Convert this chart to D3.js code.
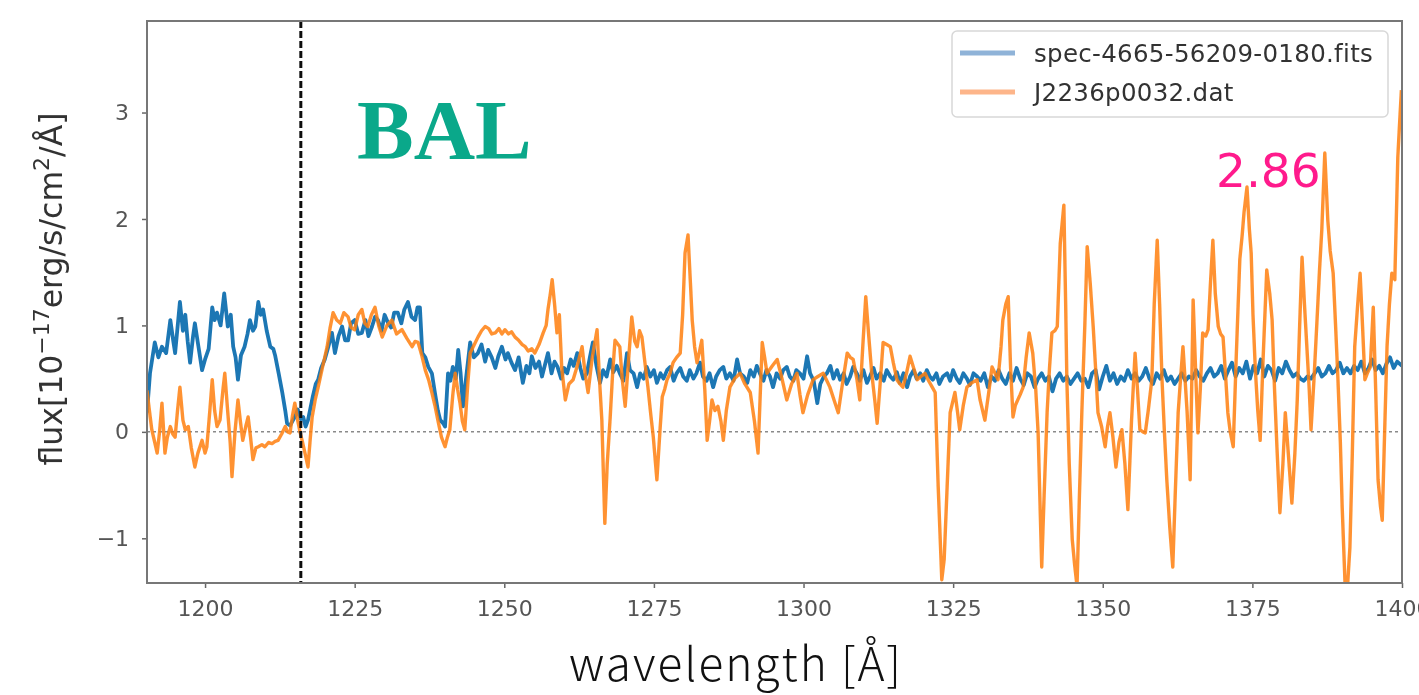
<!DOCTYPE html>
<html>
<head>
<meta charset="utf-8">
<script src="https://cdn.jsdelivr.net/npm/d3@7"></script>
<style>
  html, body { margin: 0; padding: 0; background: #fff; }
  svg { display: block; }
</style>
</head>
<body>
<svg id="chart" width="1419" height="695"></svg>
<script>
// SDSS spectrum (blue), [wavelength, flux]
const specSDSS = [
  [1190.3,0.18],[1190.8,0.55],[1191.6,0.84],[1192.2,0.70],[1192.8,0.80],[1193.5,0.74],[1194.2,1.05],[1194.7,0.85],
  [1195.0,0.74],[1195.8,1.22],[1196.3,0.95],[1196.7,1.10],[1197.1,0.85],[1197.5,0.65],[1198.0,0.90],[1198.3,1.02],
  [1198.9,0.80],[1199.5,0.58],[1200.0,0.68],[1200.6,0.78],[1201.2,1.17],[1201.6,1.05],[1202.0,1.12],[1202.6,1.00],
  [1203.2,1.30],[1203.8,0.99],[1204.3,1.10],[1204.7,0.80],[1205.1,0.70],[1205.5,0.49],[1206.0,0.72],[1206.6,0.80],
  [1207.1,0.92],[1207.5,1.05],[1208.0,0.95],[1208.4,0.99],[1208.9,1.22],[1209.3,1.10],[1209.7,1.15],[1210.3,0.95],
  [1210.9,0.80],[1211.4,0.78],[1211.7,0.72],[1212.3,0.55],[1212.9,0.37],[1213.4,0.20],[1213.7,0.08],[1214.2,0.06],
  [1214.7,0.11],[1215.1,0.15],[1215.5,0.21],[1216.0,0.12],[1216.4,0.14],[1216.8,0.05],[1217.2,0.11],[1217.6,0.22],
  [1218.0,0.33],[1218.5,0.45],[1218.9,0.49],[1219.4,0.60],[1220.0,0.68],[1220.6,0.80],[1221.2,0.93],[1221.7,0.74],
  [1222.3,0.90],[1222.9,0.99],[1223.4,0.86],[1223.9,0.86],[1224.4,1.02],[1225.0,1.05],[1225.6,0.92],[1226.2,0.93],
  [1226.8,1.05],[1227.3,0.90],[1227.9,0.99],[1228.4,1.08],[1228.9,1.05],[1229.5,0.95],[1230.0,1.10],[1230.6,1.02],
  [1231.1,0.98],[1231.6,1.12],[1232.2,1.12],[1232.8,1.02],[1233.3,1.15],[1233.9,1.22],[1234.5,1.08],[1235.1,1.05],
  [1235.5,1.17],[1235.9,1.17],[1236.3,0.74],[1236.8,0.70],[1237.3,0.61],[1237.9,0.55],[1238.4,0.37],[1238.9,0.20],
  [1239.3,0.11],[1239.8,0.08],[1240.1,0.05],[1240.6,0.55],[1241.0,0.48],[1241.4,0.61],[1241.9,0.50],[1242.3,0.77],
  [1242.7,0.55],[1243.1,0.24],[1243.6,0.50],[1244.3,0.84],[1244.9,0.70],[1245.6,0.74],[1246.2,0.82],[1246.8,0.66],
  [1247.3,0.77],[1247.9,0.70],[1248.5,0.60],[1249.0,0.71],[1249.6,0.80],[1250.2,0.68],[1250.6,0.74],[1251.2,0.65],
  [1251.8,0.58],[1252.4,0.70],[1253.1,0.46],[1253.7,0.62],[1254.2,0.55],[1254.6,0.71],[1255.2,0.60],[1255.8,0.66],
  [1256.3,0.52],[1256.8,0.63],[1257.3,0.74],[1257.9,0.55],[1258.4,0.66],[1258.9,0.61],[1259.5,0.50],[1260.0,0.60],
  [1260.5,0.55],[1261.1,0.68],[1261.6,0.62],[1262.2,0.74],[1262.7,0.60],[1263.2,0.50],[1263.8,0.55],[1264.3,0.70],
  [1264.8,0.84],[1265.4,0.62],[1266.0,0.46],[1266.5,0.58],[1267.1,0.52],[1267.7,0.68],[1268.2,0.56],[1268.8,0.62],
  [1269.3,0.55],[1269.9,0.48],[1270.5,0.74],[1271.0,0.58],[1271.6,0.55],[1272.2,0.42],[1272.7,0.55],[1273.3,0.50],
  [1273.8,0.61],[1274.4,0.52],[1275.0,0.58],[1275.5,0.46],[1276.1,0.55],[1276.6,0.50],[1277.2,0.58],[1277.7,0.61],
  [1278.3,0.48],[1278.8,0.55],[1279.4,0.60],[1279.9,0.52],[1280.5,0.48],[1281.0,0.58],[1281.6,0.50],[1282.1,0.55],
  [1282.7,0.65],[1283.2,0.52],[1283.8,0.48],[1284.3,0.55],[1284.9,0.42],[1285.4,0.52],[1286.0,0.58],[1286.6,0.61],
  [1287.1,0.50],[1287.7,0.55],[1288.3,0.48],[1288.9,0.68],[1289.4,0.55],[1290.0,0.52],[1290.6,0.46],[1291.1,0.58],
  [1291.7,0.52],[1292.2,0.62],[1292.7,0.55],[1293.3,0.48],[1293.8,0.58],[1294.4,0.52],[1294.9,0.42],[1295.5,0.55],
  [1296.1,0.50],[1296.6,0.58],[1297.2,0.61],[1297.7,0.52],[1298.3,0.48],[1298.8,0.58],[1299.4,0.55],[1300.0,0.50],
  [1300.6,0.71],[1301.1,0.55],[1301.7,0.48],[1302.3,0.27],[1302.8,0.45],[1303.4,0.52],[1303.9,0.55],[1304.5,0.62],
  [1305.0,0.50],[1305.6,0.58],[1306.1,0.49],[1306.7,0.55],[1307.2,0.45],[1307.8,0.52],[1308.3,0.61],[1308.9,0.55],
  [1309.4,0.48],[1310.0,0.58],[1310.6,0.46],[1311.1,0.52],[1311.7,0.60],[1312.2,0.50],[1312.8,0.55],[1313.4,0.48],
  [1313.9,0.58],[1314.5,0.52],[1315.0,0.49],[1315.6,0.56],[1316.1,0.46],[1316.7,0.55],[1317.3,0.42],[1317.8,0.52],
  [1318.4,0.58],[1318.9,0.50],[1319.5,0.55],[1320.0,0.48],[1320.6,0.58],[1321.1,0.52],[1321.6,0.49],[1322.2,0.55],
  [1322.7,0.45],[1323.3,0.52],[1324.0,0.55],[1324.5,0.48],[1325.0,0.58],[1325.6,0.50],[1326.1,0.46],[1326.7,0.55],
  [1327.3,0.50],[1327.8,0.44],[1328.4,0.55],[1329.0,0.52],[1329.6,0.48],[1330.2,0.55],[1330.8,0.42],[1331.4,0.52],
  [1332.0,0.48],[1332.6,0.58],[1333.2,0.50],[1333.8,0.45],[1334.4,0.55],[1335.0,0.48],[1335.6,0.60],[1336.2,0.50],
  [1336.8,0.44],[1337.4,0.55],[1338.0,0.52],[1338.6,0.42],[1339.2,0.50],[1339.8,0.55],[1340.4,0.48],[1341.0,0.52],
  [1341.6,0.38],[1342.2,0.50],[1342.8,0.55],[1343.4,0.48],[1344.0,0.52],[1344.6,0.45],[1345.2,0.50],[1345.8,0.55],
  [1346.4,0.48],[1347.0,0.50],[1347.6,0.42],[1348.2,0.55],[1348.8,0.58],[1349.4,0.40],[1350.0,0.52],[1350.6,0.62],
  [1351.2,0.48],[1351.8,0.55],[1352.4,0.45],[1353.0,0.52],[1353.6,0.48],[1354.2,0.58],[1354.8,0.50],[1355.4,0.55],
  [1356.0,0.48],[1356.6,0.52],[1357.2,0.60],[1357.8,0.50],[1358.4,0.45],[1359.0,0.55],[1359.6,0.50],[1360.2,0.58],
  [1360.8,0.48],[1361.4,0.52],[1362.0,0.45],[1362.6,0.50],[1363.2,0.55],[1363.8,0.48],[1364.4,0.52],[1365.0,0.50],
  [1365.6,0.58],[1366.2,0.52],[1366.8,0.48],[1367.4,0.55],[1368.0,0.60],[1368.6,0.52],[1369.2,0.55],[1369.8,0.62],
  [1370.4,0.50],[1371.0,0.58],[1371.6,0.65],[1372.2,0.52],[1372.8,0.60],[1373.4,0.55],[1374.0,0.66],[1374.6,0.50],
  [1375.2,0.62],[1375.8,0.55],[1376.4,0.68],[1377.0,0.52],[1377.6,0.62],[1378.2,0.58],[1378.8,0.48],[1379.4,0.60],
  [1380.0,0.55],[1380.6,0.66],[1381.2,0.58],[1381.8,0.52],[1382.4,0.55],[1383.0,0.50],[1383.6,0.48],[1384.2,0.52],
  [1384.8,0.50],[1385.4,0.55],[1386.0,0.60],[1386.6,0.52],[1387.2,0.55],[1387.8,0.62],[1388.4,0.55],[1389.0,0.58],
  [1389.6,0.65],[1390.2,0.55],[1390.8,0.60],[1391.4,0.55],[1392.0,0.62],[1392.6,0.58],[1393.2,0.66],[1393.8,0.55],
  [1394.4,0.60],[1395.0,0.68],[1395.6,0.58],[1396.2,0.62],[1396.8,0.55],[1397.4,0.64],[1398.0,0.70],[1398.6,0.60],
  [1399.2,0.66],[1400.0,0.62]
];

// second spectrum (orange), [wavelength, flux]
const specDat = [
  [1190.3,0.39],[1190.7,0.20],[1191.1,0.02],[1191.6,-0.10],[1192.0,-0.20],[1192.4,0.00],[1192.8,0.27],[1193.3,-0.20],
  [1193.7,-0.05],[1194.2,0.05],[1194.6,-0.02],[1195.0,-0.05],[1195.4,0.20],[1195.8,0.42],[1196.3,0.11],[1196.7,0.02],
  [1197.2,0.05],[1197.7,-0.15],[1198.3,-0.33],[1198.8,-0.20],[1199.5,-0.08],[1200.0,-0.20],[1200.3,-0.14],[1200.8,0.20],
  [1201.2,0.49],[1201.6,0.20],[1202.0,0.05],[1202.5,0.11],[1203.0,0.40],[1203.3,0.55],[1203.8,0.18],[1204.2,-0.10],
  [1204.5,-0.42],[1205.0,0.00],[1205.5,0.30],[1205.9,0.10],[1206.3,-0.08],[1206.8,0.05],[1207.2,0.14],[1207.6,-0.05],
  [1208.0,-0.26],[1208.5,-0.15],[1208.9,-0.14],[1209.5,-0.12],[1210.0,-0.14],[1210.6,-0.10],[1211.2,-0.11],[1211.7,-0.09],
  [1212.2,-0.08],[1212.8,-0.02],[1213.4,0.05],[1213.8,0.00],[1214.2,-0.01],[1214.6,0.15],[1215.0,0.27],[1215.5,0.10],
  [1215.9,-0.01],[1216.3,-0.10],[1216.7,-0.20],[1217.2,-0.33],[1217.6,-0.05],[1217.9,0.14],[1218.4,0.30],[1218.9,0.42],
  [1219.6,0.60],[1220.4,0.80],[1220.9,0.98],[1221.4,1.12],[1222.0,1.05],[1222.6,1.02],[1223.2,1.12],[1223.9,1.08],
  [1224.4,0.98],[1225.0,0.96],[1225.6,1.10],[1226.2,1.15],[1226.7,1.02],[1227.2,0.99],[1227.8,1.10],[1228.4,1.17],
  [1229.0,1.00],[1229.6,0.89],[1230.4,1.00],[1231.2,1.05],[1232.0,0.92],[1232.9,0.96],[1233.7,0.88],[1234.6,0.80],
  [1235.1,0.85],[1235.6,0.84],[1236.2,0.72],[1236.8,0.58],[1237.4,0.48],[1237.9,0.37],[1238.4,0.25],[1238.9,0.11],
  [1239.5,-0.05],[1240.1,-0.14],[1240.5,-0.05],[1240.9,0.02],[1241.4,0.35],[1241.8,0.55],[1242.2,0.40],[1242.6,0.27],
  [1243.0,0.10],[1243.4,0.02],[1243.9,0.45],[1244.3,0.74],[1245.0,0.82],[1245.6,0.89],[1246.2,0.95],[1246.8,0.99],
  [1247.4,0.97],[1247.9,0.92],[1248.5,0.93],[1249.1,0.97],[1249.6,0.92],[1250.1,0.96],[1250.7,0.92],[1251.2,0.94],
  [1251.8,0.89],[1252.4,0.86],[1253.0,0.82],[1253.5,0.80],[1254.0,0.76],[1254.6,0.78],[1255.1,0.74],[1255.8,0.82],
  [1256.5,0.93],[1257.0,1.00],[1257.3,1.15],[1257.7,1.30],[1258.0,1.43],[1258.4,1.20],[1258.8,0.93],[1259.2,1.10],
  [1259.6,0.60],[1260.2,0.30],[1260.8,0.45],[1261.5,0.49],[1262.2,0.62],[1263.0,0.80],[1263.5,0.55],[1264.0,0.37],
  [1264.7,0.70],[1265.5,0.96],[1265.9,0.50],[1266.3,0.11],[1266.8,-0.86],[1267.2,-0.30],[1267.7,0.14],[1268.1,0.55],
  [1268.5,0.86],[1269.3,0.80],[1269.7,0.50],[1270.2,0.24],[1270.8,0.70],[1271.3,1.08],[1271.8,0.85],[1272.2,0.80],
  [1272.6,0.95],[1273.0,0.89],[1273.5,0.65],[1274.0,0.42],[1274.5,0.15],[1274.9,-0.05],[1275.5,-0.45],[1276.0,0.00],
  [1276.4,0.33],[1276.8,0.40],[1277.2,0.49],[1277.7,0.55],[1278.2,0.65],[1278.8,0.70],[1279.4,0.74],[1279.8,1.10],
  [1280.2,1.68],[1280.7,1.85],[1281.1,1.40],[1281.4,1.05],[1281.8,0.80],[1282.2,0.65],[1282.6,0.75],[1283.0,0.86],
  [1283.5,0.40],[1283.9,-0.08],[1284.3,0.10],[1284.7,0.30],[1285.2,0.20],[1285.7,0.24],[1286.2,0.10],[1286.6,-0.08],
  [1287.1,0.20],[1287.7,0.42],[1288.5,0.50],[1289.4,0.55],[1290.2,0.45],[1291.1,0.37],[1291.8,0.10],[1292.4,-0.20],
  [1292.8,0.40],[1293.1,0.84],[1293.5,0.70],[1293.9,0.55],[1294.8,0.62],[1295.6,0.68],[1296.4,0.50],[1297.2,0.30],
  [1298.0,0.45],[1298.9,0.55],[1299.4,0.35],[1299.9,0.18],[1300.7,0.35],[1301.6,0.49],[1302.4,0.52],[1303.3,0.55],
  [1303.9,0.48],[1304.4,0.42],[1305.1,0.30],[1305.8,0.18],[1306.5,0.45],[1307.3,0.74],[1307.8,0.70],[1308.3,0.68],
  [1308.9,0.50],[1309.4,0.30],[1309.9,0.80],[1310.4,1.27],[1310.9,0.90],[1311.4,0.55],[1311.9,0.30],[1312.3,0.08],
  [1312.8,0.45],[1313.3,0.84],[1313.9,0.82],[1314.5,0.80],[1315.0,0.65],[1315.6,0.49],[1316.1,0.45],[1316.6,0.42],
  [1317.2,0.55],[1317.8,0.71],[1318.4,0.60],[1319.0,0.49],[1319.6,0.52],[1320.3,0.55],[1320.9,0.48],[1321.5,0.42],
  [1322.0,0.37],[1322.5,-0.51],[1323.1,-1.39],[1323.5,-1.20],[1324.0,-0.51],[1324.5,0.18],[1325.3,0.37],[1325.7,0.20],
  [1326.1,0.02],[1326.7,0.25],[1327.3,0.42],[1328.1,0.46],[1329.0,0.49],[1329.5,0.30],[1330.3,0.11],[1330.9,0.35],
  [1331.5,0.61],[1332.0,0.55],[1332.5,0.49],[1333.0,0.80],[1333.3,1.05],[1333.8,1.20],[1334.2,1.27],[1334.6,0.60],
  [1335.0,0.14],[1335.4,0.25],[1335.8,0.30],[1336.2,0.35],[1336.7,0.42],[1337.2,0.70],[1337.7,0.93],[1338.3,0.74],
  [1338.8,0.40],[1339.2,-0.01],[1339.8,-1.27],[1340.2,-0.60],[1340.7,0.18],[1341.1,0.60],[1341.5,0.93],[1342.0,0.95],
  [1342.4,0.99],[1342.9,1.77],[1343.5,2.13],[1343.8,1.20],[1344.0,0.49],[1344.4,-0.30],[1344.9,-1.01],[1345.3,-1.25],
  [1345.7,-1.45],[1346.1,-0.60],[1346.5,0.18],[1347.0,1.00],[1347.4,1.74],[1347.9,1.40],[1348.4,0.99],[1348.8,0.60],
  [1349.2,0.18],[1349.8,0.05],[1350.4,-0.14],[1350.8,0.05],[1351.2,0.18],[1351.7,-0.05],[1352.2,-0.33],[1352.7,-0.10],
  [1353.2,0.02],[1353.7,-0.30],[1354.2,-0.73],[1354.8,0.10],[1355.4,0.74],[1355.8,0.40],[1356.2,0.02],[1356.7,0.00],
  [1357.1,-0.01],[1357.6,0.20],[1358.2,0.49],[1358.6,1.20],[1359.1,1.80],[1359.5,1.20],[1359.9,0.49],[1360.3,0.00],
  [1360.7,-0.45],[1361.2,-0.90],[1361.7,-1.27],[1362.1,-0.60],[1362.6,0.18],[1363.0,0.50],[1363.4,0.80],[1363.8,0.45],
  [1364.1,0.18],[1364.6,-0.45],[1365.1,1.24],[1365.5,0.60],[1365.9,-0.01],[1366.3,0.40],[1366.7,0.93],[1367.2,0.90],
  [1367.6,0.96],[1368.0,1.40],[1368.4,1.80],[1368.8,1.30],[1369.3,0.99],[1369.7,0.92],[1370.1,0.89],[1370.5,0.55],
  [1370.9,0.18],[1371.3,0.00],[1371.8,-0.14],[1372.3,0.70],[1372.9,1.62],[1373.3,1.85],[1373.6,2.06],[1374.1,2.30],
  [1374.5,1.90],[1374.8,1.68],[1375.1,1.10],[1375.5,0.58],[1375.9,0.20],[1376.3,-0.08],[1376.8,0.70],[1377.4,1.52],
  [1377.9,1.30],[1378.3,1.05],[1378.7,0.40],[1379.1,-0.14],[1379.6,-0.76],[1380.1,-0.30],[1380.5,0.18],[1381.0,-0.20],
  [1381.6,-0.67],[1382.1,-0.20],[1382.5,0.30],[1382.9,1.00],[1383.3,1.64],[1383.7,1.20],[1384.1,0.80],[1384.5,0.40],
  [1384.8,0.02],[1385.3,0.50],[1385.8,1.05],[1386.2,1.50],[1386.6,1.90],[1387.1,2.62],[1387.6,1.99],[1388.0,1.70],
  [1388.5,1.49],[1388.9,1.00],[1389.3,0.49],[1389.7,-0.10],[1390.0,-0.70],[1390.5,-1.45],[1390.9,-1.45],[1391.3,-1.08],
  [1391.7,-0.20],[1392.1,0.80],[1392.6,1.20],[1393.0,1.49],[1393.4,1.00],[1393.8,0.49],[1394.2,0.55],[1394.7,0.61],
  [1395.2,1.17],[1395.6,0.40],[1396.0,-0.45],[1396.4,-0.70],[1396.7,-0.83],[1397.1,0.00],[1397.5,0.80],[1397.9,1.20],
  [1398.3,1.49],[1398.8,1.43],[1399.3,2.58],[1399.6,2.90],[1399.9,3.21]
];

const seriesNames = ['spec-4665-56209-0180.fits', 'J2236p0032.dat'];
const xTicks = [1200, 1225, 1250, 1275, 1300, 1325, 1350, 1375, 1400];
const yTicks = [-1, 0, 1, 2, 3];
const xDomain = [1190.3, 1400];
const yDomain = [-1.42, 3.86];
const lyaWave = 1216;
const peakLabel = '2.86';

const svg = d3.select('#chart');
const margin = { left: 147, top: 21, right: 1402, bottom: 583 };

const x = d3.scaleLinear().domain(xDomain).range([margin.left, margin.right]);
const y = d3.scaleLinear().domain(yDomain).range([margin.bottom, margin.top]);

const defs = svg.append('defs');
defs.append('clipPath').attr('id', 'plot-clip')
  .append('rect')
  .attr('x', margin.left).attr('y', margin.top)
  .attr('width', margin.right - margin.left)
  .attr('height', margin.bottom - margin.top);
// the source figure is a soft, upscaled image
defs.append('filter').attr('id', 'soft')
  .append('feGaussianBlur').attr('stdDeviation', 0.6);

const fig = svg.append('g').attr('filter', 'url(#soft)');

const line = d3.line().x(d => x(d[0])).y(d => y(d[1]));

const plot = fig.append('g').attr('clip-path', 'url(#plot-clip)');

// zero line
plot.append('line')
  .attr('x1', margin.left).attr('x2', margin.right)
  .attr('y1', y(0)).attr('y2', y(0))
  .attr('stroke', '#8a8a8a').attr('stroke-width', 1.5)
  .attr('stroke-dasharray', '3,3');

plot.append('path').datum(specSDSS)
  .attr('d', line)
  .attr('fill', 'none').attr('stroke', '#1f77b4')
  .attr('stroke-width', 3.8).attr('stroke-linejoin', 'round');

plot.append('path').datum(specDat)
  .attr('d', line)
  .attr('fill', 'none').attr('stroke', '#ff7f0e').attr('stroke-opacity', 0.85)
  .attr('stroke-width', 3.4).attr('stroke-linejoin', 'round');

// Ly-alpha marker
plot.append('line')
  .attr('x1', x(lyaWave)).attr('x2', x(lyaWave))
  .attr('y1', margin.top).attr('y2', margin.bottom)
  .attr('stroke', '#111').attr('stroke-width', 3)
  .attr('stroke-dasharray', '7,3');

// axes
const xAxis = fig.append('g')
  .attr('transform', `translate(0,${margin.bottom})`)
  .call(d3.axisBottom(x).tickValues(xTicks).tickFormat(d3.format('d')).tickSize(5).tickSizeOuter(0));
const yAxis = fig.append('g')
  .attr('transform', `translate(${margin.left},0)`)
  .call(d3.axisLeft(y).tickValues(yTicks).tickFormat(d => d < 0 ? '\u2212' + Math.abs(d) : d).tickSize(5).tickSizeOuter(0));

[xAxis, yAxis].forEach(a => {
  a.select('.domain').remove();
  a.selectAll('.tick line').attr('stroke', '#666').attr('stroke-width', 1.5);
  a.selectAll('.tick text')
    .attr('fill', '#555')
    .style('font-family', 'DejaVu Sans')
    .style('font-size', '22px');
});
xAxis.selectAll('.tick text').attr('dy', '1.15em');
yAxis.selectAll('.tick text').attr('dx', '-0.45em');

// frame
fig.append('rect')
  .attr('x', margin.left).attr('y', margin.top)
  .attr('width', margin.right - margin.left)
  .attr('height', margin.bottom - margin.top)
  .attr('fill', 'none').attr('stroke', '#777').attr('stroke-width', 2);

// y label with superscripts
const yLabel = fig.append('text')
  .attr('transform', `translate(62,${(margin.top + margin.bottom) / 2 - 13}) rotate(-90)`)
  .attr('text-anchor', 'middle')
  .attr('fill', '#333')
  .style('font-family', 'DejaVu Sans')
  .style('font-size', '31.5px');
yLabel.append('tspan').text('flux[10');
yLabel.append('tspan').attr('dy', -13).style('font-size', '22px').text('\u221217');
yLabel.append('tspan').attr('dy', 13).text('erg/s/cm');
yLabel.append('tspan').attr('dy', -13).style('font-size', '22px').text('2');
yLabel.append('tspan').attr('dy', 13).text('/\u00c5]');

// legend
const legend = fig.append('g');
legend.append('rect')
  .attr('x', 952).attr('y', 31).attr('width', 436).attr('height', 86).attr('rx', 5)
  .attr('fill', '#fff').attr('fill-opacity', 0.85)
  .attr('stroke', '#d8d8d8').attr('stroke-width', 1.5);
const legendColors = ['#8fb3d8', '#fdb58a'];
seriesNames.forEach((name, i) => {
  const ly = 53 + i * 39;
  legend.append('line')
    .attr('x1', 960).attr('x2', 1015).attr('y1', ly).attr('y2', ly)
    .attr('stroke', legendColors[i]).attr('stroke-width', 5);
  legend.append('text')
    .attr('x', 1034).attr('y', ly + 9)
    .attr('fill', '#333')
    .style('font-family', 'DejaVu Sans')
    .style('font-size', '24.5px')
    .style('letter-spacing', '0.3px')
    .text(name);
});

// x label (slide text, crisp)
svg.append('text')
  .attr('x', 736).attr('y', 681)
  .attr('text-anchor', 'middle')
  .attr('fill', '#111')
  .style('font-family', 'Noto Sans CJK JP')
  .style('font-weight', 300)
  .style('font-size', '46px')
  .style('letter-spacing', '2px')
  .text('wavelength [\u00c5]');

// annotations
svg.append('text')
  .attr('x', 357).attr('y', 159)
  .attr('fill', '#0aa88a')
  .style('font-family', 'Liberation Serif')
  .style('font-weight', 'bold')
  .style('font-size', '85px')
  .text('BAL');

svg.append('text')
  .attr('x', 1216).attr('y', 187)
  .attr('fill', '#ff1a8c')
  .style('font-family', 'DejaVu Sans')
  .style('font-size', '47px')
  .text(peakLabel);
</script>
</body>
</html>
